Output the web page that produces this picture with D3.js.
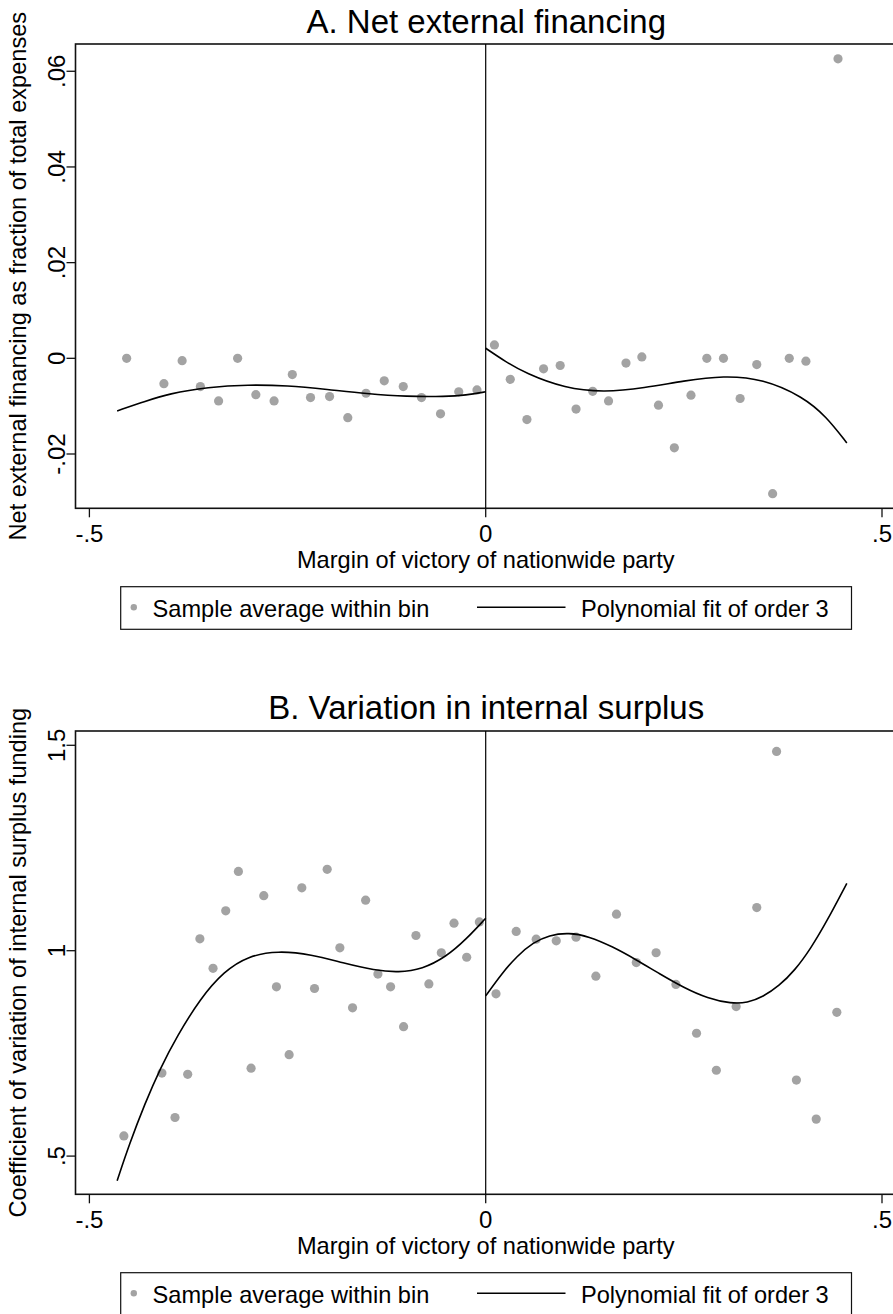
<!DOCTYPE html>
<html>
<head>
<meta charset="utf-8">
<script src="https://cdn.jsdelivr.net/npm/d3@7"></script>
<style>
  html, body { margin: 0; padding: 0; background: #fff; }
  svg { display: block; }
  text { font-family: "Liberation Sans", Arial, Helvetica, sans-serif; fill: #000; }
</style>
</head>
<body>
<div id="vis"></div>
<script>
// ---- Panel A: net external financing ----
var binXA = [-0.453, -0.406, -0.383, -0.360, -0.337, -0.313, -0.290, -0.267, -0.244, -0.221,
             -0.197, -0.174, -0.151, -0.128, -0.104, -0.081, -0.057, -0.034, -0.011,
             0.011, 0.031, 0.052, 0.073, 0.094, 0.114, 0.135, 0.155, 0.177, 0.197,
             0.218, 0.238, 0.259, 0.279, 0.300, 0.321, 0.342, 0.362, 0.383, 0.404, 0.4445];
var binYA = [0.0, -0.0053, -0.0005, -0.0059, -0.0089, 0.0, -0.0076, -0.0089, -0.0034, -0.0082,
             -0.0080, -0.0124, -0.0073, -0.0047, -0.0059, -0.0082, -0.0116, -0.0070, -0.0066,
             0.0028, -0.0044, -0.0128, -0.0022, -0.0015, -0.0106, -0.0069, -0.0089, -0.0010, 0.0003,
             -0.0098, -0.0187, -0.0077, 0.0, 0.0, -0.0084, -0.0013, -0.0283, 0.0, -0.0006, 0.0626];
var fitLeftXA = [-0.465, -0.43, -0.4, -0.35, -0.3, -0.25, -0.2, -0.15, -0.1, -0.05, -0.025, 0];
var fitLeftYA = [-0.0110, -0.0090, -0.0074, -0.0060, -0.0055, -0.0057, -0.0065, -0.0074, -0.0080, -0.0080, -0.0077, -0.0070];
var fitRightXA = [0, 0.025, 0.05, 0.1, 0.15, 0.2, 0.25, 0.3, 0.35, 0.4, 0.43, 0.4556];
var fitRightYA = [0.0021, -0.0007, -0.0031, -0.0063, -0.0071, -0.0062, -0.0047, -0.0036, -0.0043, -0.0080, -0.0122, -0.0177];
var yTicksA = [-0.02, 0, 0.02, 0.04, 0.06];
var yTickLabelsA = ["-.02", "0", ".02", ".04", ".06"];

// ---- Panel B: variation in internal surplus ----
var binXB = [-0.4565, -0.4085, -0.392, -0.376, -0.3606, -0.344, -0.328, -0.312, -0.296, -0.280,
             -0.264, -0.248, -0.232, -0.216, -0.200, -0.184, -0.168, -0.1515, -0.136, -0.120,
             -0.1036, -0.088, -0.0717, -0.056, -0.040, -0.024, -0.008,
             0.013, 0.0385, 0.0637, 0.089, 0.114, 0.139, 0.165, 0.190, 0.215,
             0.240, 0.266, 0.291, 0.316, 0.342, 0.367, 0.392, 0.417, 0.443];
var binYB = [0.549, 0.702, 0.594, 0.699, 1.029, 0.957, 1.097, 1.193, 0.714, 1.134,
             0.912, 0.747, 1.153, 0.908, 1.198, 1.007, 0.861, 1.123, 0.943, 0.912,
             0.815, 1.037, 0.919, 0.995, 1.067, 0.984, 1.070,
             0.895, 1.047, 1.028, 1.024, 1.033, 0.938, 1.089, 0.971, 0.995,
             0.918, 0.799, 0.709, 0.864, 1.105, 1.485, 0.685, 0.590, 0.850];
var fitLeftXB = [-0.465, -0.45, -0.43, -0.41, -0.39, -0.36, -0.33, -0.30, -0.262, -0.22,
                 -0.18, -0.14, -0.11, -0.08, -0.05, -0.025, 0];
var fitLeftYB = [0.440, 0.527, 0.628, 0.716, 0.790, 0.884, 0.950, 0.987, 1.000, 0.991,
                 0.970, 0.952, 0.947, 0.955, 0.985, 1.027, 1.079];
var fitRightXB = [0, 0.02, 0.04, 0.06, 0.08, 0.105, 0.13, 0.16, 0.19, 0.22, 0.25, 0.28,
                  0.31, 0.33, 0.35, 0.37, 0.39, 0.41, 0.43, 0.4556];
var fitRightYB = [0.890, 0.944, 0.988, 1.020, 1.038, 1.044, 1.035, 1.010, 0.978, 0.943, 0.910, 0.884,
                  0.871, 0.873, 0.888, 0.914, 0.952, 1.005, 1.070, 1.164];
var yTicksB = [0.5, 1, 1.5];
var yTickLabelsB = [".5", "1", "1.5"];

var xTicks = [-0.5, 0, 0.5];
var xTickLabels = ["-.5", "0", ".5"];
var xTitle = "Margin of victory of nationwide party";
var legendLabels = ["Sample average within bin", "Polynomial fit of order 3"];

var width = 893, height = 1314;
var dotColor = "#a3a3a3";

var svg = d3.select("#vis").append("svg")
    .attr("width", width)
    .attr("height", height);

var x = d3.scaleLinear().domain([-0.5, 0.5]).range([89.4, 882]);
var plotLeft = 75.5, plotRight = 897;

function zip(a, b) {
    return a.map(function (v, i) { return [v, b[i]]; });
}

function drawPanel(p) {
    var y = d3.scaleLinear().domain(p.yDomain).range([p.bottom, p.top]);
    var g = svg.append("g");

    // title
    g.append("text")
        .attr("x", (plotLeft + plotRight) / 2)
        .attr("y", p.titleY)
        .attr("text-anchor", "middle")
        .attr("font-size", "33px")
        .text(p.title);

    // plot frame
    g.append("rect")
        .attr("x", plotLeft).attr("y", p.top)
        .attr("width", plotRight - plotLeft).attr("height", p.bottom - p.top)
        .attr("fill", "none").attr("stroke", "#111").attr("stroke-width", 1.6);

    // y axis
    var yAxis = g.append("g");
    p.yTicks.forEach(function (t, i) {
        yAxis.append("line")
            .attr("x1", plotLeft - 9).attr("x2", plotLeft)
            .attr("y1", y(t)).attr("y2", y(t))
            .attr("stroke", "#111").attr("stroke-width", 1.3);
        yAxis.append("text")
            .attr("transform", "translate(65," + y(t) + ") rotate(-90)")
            .attr("text-anchor", "middle")
            .attr("font-size", "24px")
            .text(p.yTickLabels[i]);
    });

    // x axis
    var xAxis = g.append("g");
    xTicks.forEach(function (t, i) {
        xAxis.append("line")
            .attr("x1", x(t)).attr("x2", x(t))
            .attr("y1", p.bottom).attr("y2", p.bottom + 9)
            .attr("stroke", "#111").attr("stroke-width", 1.3);
        xAxis.append("text")
            .attr("x", x(t)).attr("y", p.bottom + 33.5)
            .attr("text-anchor", "middle")
            .attr("font-size", "24px")
            .text(xTickLabels[i]);
    });

    // axis titles
    g.append("text")
        .attr("x", (plotLeft + plotRight) / 2 - 0.5)
        .attr("y", p.bottom + 60)
        .attr("text-anchor", "middle")
        .attr("font-size", "23.6px")
        .text(xTitle);

    g.append("text")
        .attr("transform", "translate(26," + ((p.top + p.bottom) / 2) + ") rotate(-90)")
        .attr("text-anchor", "middle")
        .attr("font-size", "23.6px")
        .text(p.yTitle);

    // cutoff line at zero
    g.append("line")
        .attr("x1", x(0)).attr("x2", x(0))
        .attr("y1", p.top).attr("y2", p.bottom)
        .attr("stroke", "#000").attr("stroke-width", 1.2);

    // bin averages
    g.selectAll("circle.bin")
        .data(zip(p.binX, p.binY))
        .enter().append("circle")
        .attr("class", "bin")
        .attr("cx", function (d) { return x(d[0]); })
        .attr("cy", function (d) { return y(d[1]); })
        .attr("r", 4.6)
        .attr("fill", dotColor);

    // polynomial fits
    var line = d3.line()
        .x(function (d) { return x(d[0]); })
        .y(function (d) { return y(d[1]); })
        .curve(d3.curveBasis);

    [zip(p.fitLeftX, p.fitLeftY), zip(p.fitRightX, p.fitRightY)].forEach(function (pts) {
        g.append("path")
            .attr("d", line(pts))
            .attr("fill", "none")
            .attr("stroke", "#000")
            .attr("stroke-width", 1.6);
    });

    // legend
    var ly = p.bottom + 78.4;
    var leg = g.append("g");
    leg.append("rect")
        .attr("x", 120.7).attr("y", ly)
        .attr("width", 730.8).attr("height", 42.6)
        .attr("fill", "#fff").attr("stroke", "#111").attr("stroke-width", 1.2);
    leg.append("circle")
        .attr("cx", 133.8).attr("cy", ly + 20.6).attr("r", 3.2)
        .attr("fill", dotColor);
    leg.append("text")
        .attr("x", 152.6).attr("y", ly + 30)
        .attr("font-size", "23.6px")
        .text(legendLabels[0]);
    leg.append("line")
        .attr("x1", 477).attr("x2", 565.5)
        .attr("y1", ly + 20.6).attr("y2", ly + 20.6)
        .attr("stroke", "#000").attr("stroke-width", 1.5);
    leg.append("text")
        .attr("x", 580.9).attr("y", ly + 30)
        .attr("font-size", "23.6px")
        .text(legendLabels[1]);
}

drawPanel({
    title: "A. Net external financing",
    yTitle: "Net external financing as fraction of total expenses",
    titleY: 32.7, top: 44, bottom: 508.3,
    yDomain: [-0.03135, 0.0657],
    yTicks: yTicksA, yTickLabels: yTickLabelsA,
    binX: binXA, binY: binYA,
    fitLeftX: fitLeftXA, fitLeftY: fitLeftYA,
    fitRightX: fitRightXA, fitRightY: fitRightYA
});

drawPanel({
    title: "B. Variation in internal surplus",
    yTitle: "Coefficient of variation of internal surplus funding",
    titleY: 719.3, top: 731, bottom: 1194.3,
    yDomain: [0.407, 1.5348],
    yTicks: yTicksB, yTickLabels: yTickLabelsB,
    binX: binXB, binY: binYB,
    fitLeftX: fitLeftXB, fitLeftY: fitLeftYB,
    fitRightX: fitRightXB, fitRightY: fitRightYB
});
</script>
</body>
</html>
